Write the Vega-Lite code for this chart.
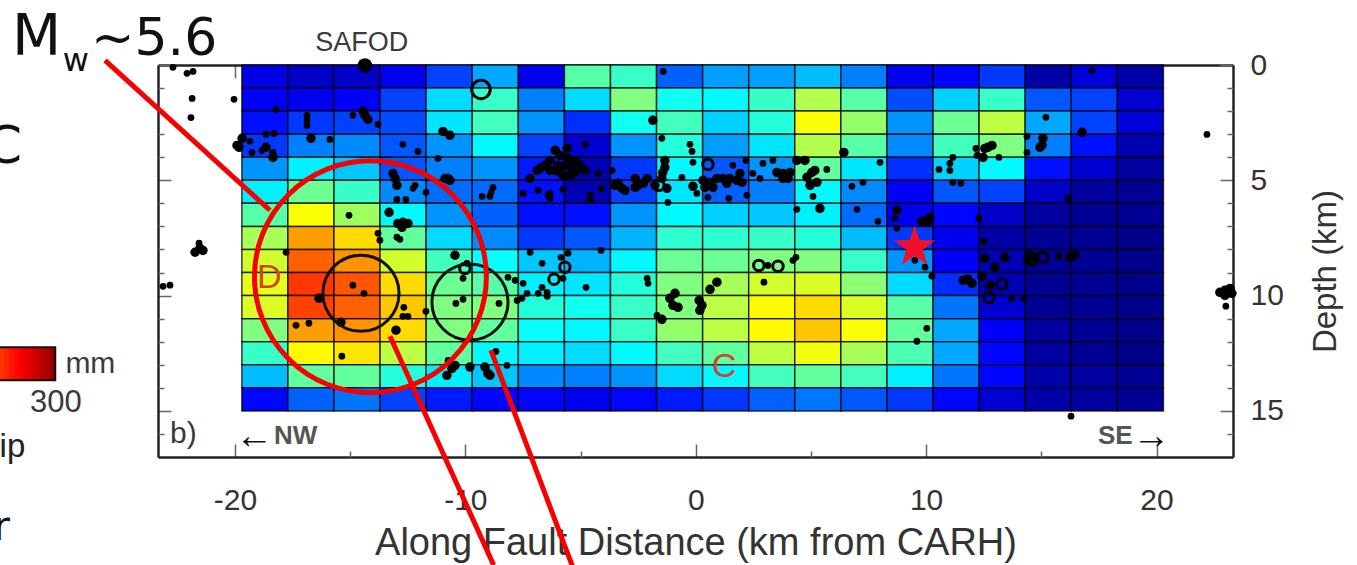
{"$schema":"https://vega.github.io/schema/vega-lite/v6.json","width":1075,"height":392,"autosize":"none","padding":{"left":158,"top":65,"right":124,"bottom":108},"background":"white","view":{"stroke":null},
"datasets":{
"cells":[
{"x":-19.7,"x2":-17.7,"y":0,"y2":1,"s":30},{"x":-17.7,"x2":-15.7,"y":0,"y2":1,"s":21},{"x":-15.7,"x2":-13.7,"y":0,"y2":1,"s":21},{"x":-13.7,"x2":-11.7,"y":0,"y2":1,"s":33},{"x":-11.7,"x2":-9.7,"y":0,"y2":1,"s":57},{"x":-9.7,"x2":-7.7,"y":0,"y2":1,"s":87},{"x":-7.7,"x2":-5.7,"y":0,"y2":1,"s":33},{"x":-5.7,"x2":-3.7,"y":0,"y2":1,"s":138},{"x":-3.7,"x2":-1.7,"y":0,"y2":1,"s":129},{"x":-1.7,"x2":0.3,"y":0,"y2":1,"s":66},{"x":0.3,"x2":2.3,"y":0,"y2":1,"s":84},{"x":2.3,"x2":4.3,"y":0,"y2":1,"s":84},{"x":4.3,"x2":6.3,"y":0,"y2":1,"s":93},{"x":6.3,"x2":8.3,"y":0,"y2":1,"s":75},{"x":8.3,"x2":10.3,"y":0,"y2":1,"s":33},{"x":10.3,"x2":12.3,"y":0,"y2":1,"s":39},{"x":12.3,"x2":14.3,"y":0,"y2":1,"s":54},{"x":14.3,"x2":16.3,"y":0,"y2":1,"s":12},{"x":16.3,"x2":18.3,"y":0,"y2":1,"s":27},{"x":18.3,"x2":20.3,"y":0,"y2":1,"s":12},
{"x":-19.7,"x2":-17.7,"y":1,"y2":2,"s":36},{"x":-17.7,"x2":-15.7,"y":1,"y2":2,"s":33},{"x":-15.7,"x2":-13.7,"y":1,"y2":2,"s":36},{"x":-13.7,"x2":-11.7,"y":1,"y2":2,"s":57},{"x":-11.7,"x2":-9.7,"y":1,"y2":2,"s":102},{"x":-9.7,"x2":-7.7,"y":1,"y2":2,"s":129},{"x":-7.7,"x2":-5.7,"y":1,"y2":2,"s":75},{"x":-5.7,"x2":-3.7,"y":1,"y2":2,"s":102},{"x":-3.7,"x2":-1.7,"y":1,"y2":2,"s":150},{"x":-1.7,"x2":0.3,"y":1,"y2":2,"s":117},{"x":0.3,"x2":2.3,"y":1,"y2":2,"s":111},{"x":2.3,"x2":4.3,"y":1,"y2":2,"s":129},{"x":4.3,"x2":6.3,"y":1,"y2":2,"s":165},{"x":6.3,"x2":8.3,"y":1,"y2":2,"s":138},{"x":8.3,"x2":10.3,"y":1,"y2":2,"s":60},{"x":10.3,"x2":12.3,"y":1,"y2":2,"s":99},{"x":12.3,"x2":14.3,"y":1,"y2":2,"s":129},{"x":14.3,"x2":16.3,"y":1,"y2":2,"s":63},{"x":16.3,"x2":18.3,"y":1,"y2":2,"s":57},{"x":18.3,"x2":20.3,"y":1,"y2":2,"s":24},
{"x":-19.7,"x2":-17.7,"y":2,"y2":3,"s":42},{"x":-17.7,"x2":-15.7,"y":2,"y2":3,"s":54},{"x":-15.7,"x2":-13.7,"y":2,"y2":3,"s":57},{"x":-13.7,"x2":-11.7,"y":2,"y2":3,"s":60},{"x":-11.7,"x2":-9.7,"y":2,"y2":3,"s":105},{"x":-9.7,"x2":-7.7,"y":2,"y2":3,"s":132},{"x":-7.7,"x2":-5.7,"y":2,"y2":3,"s":81},{"x":-5.7,"x2":-3.7,"y":2,"y2":3,"s":51},{"x":-3.7,"x2":-1.7,"y":2,"y2":3,"s":117},{"x":-1.7,"x2":0.3,"y":2,"y2":3,"s":132},{"x":0.3,"x2":2.3,"y":2,"y2":3,"s":99},{"x":2.3,"x2":4.3,"y":2,"y2":3,"s":123},{"x":4.3,"x2":6.3,"y":2,"y2":3,"s":186},{"x":6.3,"x2":8.3,"y":2,"y2":3,"s":156},{"x":8.3,"x2":10.3,"y":2,"y2":3,"s":81},{"x":10.3,"x2":12.3,"y":2,"y2":3,"s":144},{"x":12.3,"x2":14.3,"y":2,"y2":3,"s":168},{"x":14.3,"x2":16.3,"y":2,"y2":3,"s":87},{"x":16.3,"x2":18.3,"y":2,"y2":3,"s":57},{"x":18.3,"x2":20.3,"y":2,"y2":3,"s":27},
{"x":-19.7,"x2":-17.7,"y":3,"y2":4,"s":54},{"x":-17.7,"x2":-15.7,"y":3,"y2":4,"s":75},{"x":-15.7,"x2":-13.7,"y":3,"y2":4,"s":78},{"x":-13.7,"x2":-11.7,"y":3,"y2":4,"s":63},{"x":-11.7,"x2":-9.7,"y":3,"y2":4,"s":81},{"x":-9.7,"x2":-7.7,"y":3,"y2":4,"s":111},{"x":-7.7,"x2":-5.7,"y":3,"y2":4,"s":57},{"x":-5.7,"x2":-3.7,"y":3,"y2":4,"s":24},{"x":-3.7,"x2":-1.7,"y":3,"y2":4,"s":81},{"x":-1.7,"x2":0.3,"y":3,"y2":4,"s":123},{"x":0.3,"x2":2.3,"y":3,"y2":4,"s":84},{"x":2.3,"x2":4.3,"y":3,"y2":4,"s":105},{"x":4.3,"x2":6.3,"y":3,"y2":4,"s":165},{"x":6.3,"x2":8.3,"y":3,"y2":4,"s":138},{"x":8.3,"x2":10.3,"y":3,"y2":4,"s":78},{"x":10.3,"x2":12.3,"y":3,"y2":4,"s":132},{"x":12.3,"x2":14.3,"y":3,"y2":4,"s":150},{"x":14.3,"x2":16.3,"y":3,"y2":4,"s":75},{"x":16.3,"x2":18.3,"y":3,"y2":4,"s":42},{"x":18.3,"x2":20.3,"y":3,"y2":4,"s":15},
{"x":-19.7,"x2":-17.7,"y":4,"y2":5,"s":81},{"x":-17.7,"x2":-15.7,"y":4,"y2":5,"s":108},{"x":-15.7,"x2":-13.7,"y":4,"y2":5,"s":96},{"x":-13.7,"x2":-11.7,"y":4,"y2":5,"s":63},{"x":-11.7,"x2":-9.7,"y":4,"y2":5,"s":75},{"x":-9.7,"x2":-7.7,"y":4,"y2":5,"s":81},{"x":-7.7,"x2":-5.7,"y":4,"y2":5,"s":45},{"x":-5.7,"x2":-3.7,"y":4,"y2":5,"s":15},{"x":-3.7,"x2":-1.7,"y":4,"y2":5,"s":54},{"x":-1.7,"x2":0.3,"y":4,"y2":5,"s":111},{"x":0.3,"x2":2.3,"y":4,"y2":5,"s":63},{"x":2.3,"x2":4.3,"y":4,"y2":5,"s":81},{"x":4.3,"x2":6.3,"y":4,"y2":5,"s":141},{"x":6.3,"x2":8.3,"y":4,"y2":5,"s":105},{"x":8.3,"x2":10.3,"y":4,"y2":5,"s":51},{"x":10.3,"x2":12.3,"y":4,"y2":5,"s":99},{"x":12.3,"x2":14.3,"y":4,"y2":5,"s":111},{"x":14.3,"x2":16.3,"y":4,"y2":5,"s":42},{"x":16.3,"x2":18.3,"y":4,"y2":5,"s":24},{"x":18.3,"x2":20.3,"y":4,"y2":5,"s":9},
{"x":-19.7,"x2":-17.7,"y":5,"y2":6,"s":108},{"x":-17.7,"x2":-15.7,"y":5,"y2":6,"s":144},{"x":-15.7,"x2":-13.7,"y":5,"y2":6,"s":129},{"x":-13.7,"x2":-11.7,"y":5,"y2":6,"s":78},{"x":-11.7,"x2":-9.7,"y":5,"y2":6,"s":69},{"x":-9.7,"x2":-7.7,"y":5,"y2":6,"s":69},{"x":-7.7,"x2":-5.7,"y":5,"y2":6,"s":42},{"x":-5.7,"x2":-3.7,"y":5,"y2":6,"s":15},{"x":-3.7,"x2":-1.7,"y":5,"y2":6,"s":57},{"x":-1.7,"x2":0.3,"y":5,"y2":6,"s":105},{"x":0.3,"x2":2.3,"y":5,"y2":6,"s":66},{"x":2.3,"x2":4.3,"y":5,"y2":6,"s":75},{"x":4.3,"x2":6.3,"y":5,"y2":6,"s":111},{"x":6.3,"x2":8.3,"y":5,"y2":6,"s":78},{"x":8.3,"x2":10.3,"y":5,"y2":6,"s":36},{"x":10.3,"x2":12.3,"y":5,"y2":6,"s":63},{"x":12.3,"x2":14.3,"y":5,"y2":6,"s":57},{"x":14.3,"x2":16.3,"y":5,"y2":6,"s":21},{"x":16.3,"x2":18.3,"y":5,"y2":6,"s":9},{"x":18.3,"x2":20.3,"y":5,"y2":6,"s":6},
{"x":-19.7,"x2":-17.7,"y":6,"y2":7,"s":138},{"x":-17.7,"x2":-15.7,"y":6,"y2":7,"s":186},{"x":-15.7,"x2":-13.7,"y":6,"y2":7,"s":159},{"x":-13.7,"x2":-11.7,"y":6,"y2":7,"s":111},{"x":-11.7,"x2":-9.7,"y":6,"y2":7,"s":81},{"x":-9.7,"x2":-7.7,"y":6,"y2":7,"s":66},{"x":-7.7,"x2":-5.7,"y":6,"y2":7,"s":42},{"x":-5.7,"x2":-3.7,"y":6,"y2":7,"s":42},{"x":-3.7,"x2":-1.7,"y":6,"y2":7,"s":81},{"x":-1.7,"x2":0.3,"y":6,"y2":7,"s":111},{"x":0.3,"x2":2.3,"y":6,"y2":7,"s":99},{"x":2.3,"x2":4.3,"y":6,"y2":7,"s":96},{"x":4.3,"x2":6.3,"y":6,"y2":7,"s":108},{"x":6.3,"x2":8.3,"y":6,"y2":7,"s":69},{"x":8.3,"x2":10.3,"y":6,"y2":7,"s":33},{"x":10.3,"x2":12.3,"y":6,"y2":7,"s":39},{"x":12.3,"x2":14.3,"y":6,"y2":7,"s":21},{"x":14.3,"x2":16.3,"y":6,"y2":7,"s":9},{"x":16.3,"x2":18.3,"y":6,"y2":7,"s":6},{"x":18.3,"x2":20.3,"y":6,"y2":7,"s":6},
{"x":-19.7,"x2":-17.7,"y":7,"y2":8,"s":162},{"x":-17.7,"x2":-15.7,"y":7,"y2":8,"s":216},{"x":-15.7,"x2":-13.7,"y":7,"y2":8,"s":198},{"x":-13.7,"x2":-11.7,"y":7,"y2":8,"s":141},{"x":-11.7,"x2":-9.7,"y":7,"y2":8,"s":102},{"x":-9.7,"x2":-7.7,"y":7,"y2":8,"s":78},{"x":-7.7,"x2":-5.7,"y":7,"y2":8,"s":54},{"x":-5.7,"x2":-3.7,"y":7,"y2":8,"s":63},{"x":-3.7,"x2":-1.7,"y":7,"y2":8,"s":90},{"x":-1.7,"x2":0.3,"y":7,"y2":8,"s":126},{"x":0.3,"x2":2.3,"y":7,"y2":8,"s":126},{"x":2.3,"x2":4.3,"y":7,"y2":8,"s":129},{"x":4.3,"x2":6.3,"y":7,"y2":8,"s":123},{"x":6.3,"x2":8.3,"y":7,"y2":8,"s":93},{"x":8.3,"x2":10.3,"y":7,"y2":8,"s":54},{"x":10.3,"x2":12.3,"y":7,"y2":8,"s":33},{"x":12.3,"x2":14.3,"y":7,"y2":8,"s":12},{"x":14.3,"x2":16.3,"y":7,"y2":8,"s":6},{"x":16.3,"x2":18.3,"y":7,"y2":8,"s":6},{"x":18.3,"x2":20.3,"y":7,"y2":8,"s":3},
{"x":-19.7,"x2":-17.7,"y":8,"y2":9,"s":174},{"x":-17.7,"x2":-15.7,"y":8,"y2":9,"s":234},{"x":-15.7,"x2":-13.7,"y":8,"y2":9,"s":219},{"x":-13.7,"x2":-11.7,"y":8,"y2":9,"s":174},{"x":-11.7,"x2":-9.7,"y":8,"y2":9,"s":132},{"x":-9.7,"x2":-7.7,"y":8,"y2":9,"s":114},{"x":-7.7,"x2":-5.7,"y":8,"y2":9,"s":96},{"x":-5.7,"x2":-3.7,"y":8,"y2":9,"s":90},{"x":-3.7,"x2":-1.7,"y":8,"y2":9,"s":111},{"x":-1.7,"x2":0.3,"y":8,"y2":9,"s":144},{"x":0.3,"x2":2.3,"y":8,"y2":9,"s":144},{"x":2.3,"x2":4.3,"y":8,"y2":9,"s":150},{"x":4.3,"x2":6.3,"y":8,"y2":9,"s":150},{"x":6.3,"x2":8.3,"y":8,"y2":9,"s":129},{"x":8.3,"x2":10.3,"y":8,"y2":9,"s":81},{"x":10.3,"x2":12.3,"y":8,"y2":9,"s":36},{"x":12.3,"x2":14.3,"y":8,"y2":9,"s":15},{"x":14.3,"x2":16.3,"y":8,"y2":9,"s":6},{"x":16.3,"x2":18.3,"y":8,"y2":9,"s":6},{"x":18.3,"x2":20.3,"y":8,"y2":9,"s":3},
{"x":-19.7,"x2":-17.7,"y":9,"y2":10,"s":180},{"x":-17.7,"x2":-15.7,"y":9,"y2":10,"s":246},{"x":-15.7,"x2":-13.7,"y":9,"y2":10,"s":237},{"x":-13.7,"x2":-11.7,"y":9,"y2":10,"s":198},{"x":-11.7,"x2":-9.7,"y":9,"y2":10,"s":144},{"x":-9.7,"x2":-7.7,"y":9,"y2":10,"s":138},{"x":-7.7,"x2":-5.7,"y":9,"y2":10,"s":108},{"x":-5.7,"x2":-3.7,"y":9,"y2":10,"s":105},{"x":-3.7,"x2":-1.7,"y":9,"y2":10,"s":123},{"x":-1.7,"x2":0.3,"y":9,"y2":10,"s":150},{"x":0.3,"x2":2.3,"y":9,"y2":10,"s":162},{"x":2.3,"x2":4.3,"y":9,"y2":10,"s":174},{"x":4.3,"x2":6.3,"y":9,"y2":10,"s":177},{"x":6.3,"x2":8.3,"y":9,"y2":10,"s":153},{"x":8.3,"x2":10.3,"y":9,"y2":10,"s":102},{"x":10.3,"x2":12.3,"y":9,"y2":10,"s":51},{"x":12.3,"x2":14.3,"y":9,"y2":10,"s":15},{"x":14.3,"x2":16.3,"y":9,"y2":10,"s":6},{"x":16.3,"x2":18.3,"y":9,"y2":10,"s":6},{"x":18.3,"x2":20.3,"y":9,"y2":10,"s":3},
{"x":-19.7,"x2":-17.7,"y":10,"y2":11,"s":177},{"x":-17.7,"x2":-15.7,"y":10,"y2":11,"s":243},{"x":-15.7,"x2":-13.7,"y":10,"y2":11,"s":234},{"x":-13.7,"x2":-11.7,"y":10,"y2":11,"s":204},{"x":-11.7,"x2":-9.7,"y":10,"y2":11,"s":150},{"x":-9.7,"x2":-7.7,"y":10,"y2":11,"s":150},{"x":-7.7,"x2":-5.7,"y":10,"y2":11,"s":123},{"x":-5.7,"x2":-3.7,"y":10,"y2":11,"s":117},{"x":-3.7,"x2":-1.7,"y":10,"y2":11,"s":129},{"x":-1.7,"x2":0.3,"y":10,"y2":11,"s":150},{"x":0.3,"x2":2.3,"y":10,"y2":11,"s":168},{"x":2.3,"x2":4.3,"y":10,"y2":11,"s":189},{"x":4.3,"x2":6.3,"y":10,"y2":11,"s":198},{"x":6.3,"x2":8.3,"y":10,"y2":11,"s":177},{"x":8.3,"x2":10.3,"y":10,"y2":11,"s":138},{"x":10.3,"x2":12.3,"y":10,"y2":11,"s":72},{"x":12.3,"x2":14.3,"y":10,"y2":11,"s":24},{"x":14.3,"x2":16.3,"y":10,"y2":11,"s":6},{"x":16.3,"x2":18.3,"y":10,"y2":11,"s":6},{"x":18.3,"x2":20.3,"y":10,"y2":11,"s":3},
{"x":-19.7,"x2":-17.7,"y":11,"y2":12,"s":150},{"x":-17.7,"x2":-15.7,"y":11,"y2":12,"s":216},{"x":-15.7,"x2":-13.7,"y":11,"y2":12,"s":219},{"x":-13.7,"x2":-11.7,"y":11,"y2":12,"s":198},{"x":-11.7,"x2":-9.7,"y":11,"y2":12,"s":150},{"x":-9.7,"x2":-7.7,"y":11,"y2":12,"s":141},{"x":-7.7,"x2":-5.7,"y":11,"y2":12,"s":114},{"x":-5.7,"x2":-3.7,"y":11,"y2":12,"s":111},{"x":-3.7,"x2":-1.7,"y":11,"y2":12,"s":129},{"x":-1.7,"x2":0.3,"y":11,"y2":12,"s":156},{"x":0.3,"x2":2.3,"y":11,"y2":12,"s":168},{"x":2.3,"x2":4.3,"y":11,"y2":12,"s":189},{"x":4.3,"x2":6.3,"y":11,"y2":12,"s":204},{"x":6.3,"x2":8.3,"y":11,"y2":12,"s":186},{"x":8.3,"x2":10.3,"y":11,"y2":12,"s":141},{"x":10.3,"x2":12.3,"y":11,"y2":12,"s":87},{"x":12.3,"x2":14.3,"y":11,"y2":12,"s":36},{"x":14.3,"x2":16.3,"y":11,"y2":12,"s":9},{"x":16.3,"x2":18.3,"y":11,"y2":12,"s":6},{"x":18.3,"x2":20.3,"y":11,"y2":12,"s":3},
{"x":-19.7,"x2":-17.7,"y":12,"y2":13,"s":129},{"x":-17.7,"x2":-15.7,"y":12,"y2":13,"s":189},{"x":-15.7,"x2":-13.7,"y":12,"y2":13,"s":195},{"x":-13.7,"x2":-11.7,"y":12,"y2":13,"s":168},{"x":-11.7,"x2":-9.7,"y":12,"y2":13,"s":141},{"x":-9.7,"x2":-7.7,"y":12,"y2":13,"s":111},{"x":-7.7,"x2":-5.7,"y":12,"y2":13,"s":108},{"x":-5.7,"x2":-3.7,"y":12,"y2":13,"s":102},{"x":-3.7,"x2":-1.7,"y":12,"y2":13,"s":111},{"x":-1.7,"x2":0.3,"y":12,"y2":13,"s":132},{"x":0.3,"x2":2.3,"y":12,"y2":13,"s":141},{"x":2.3,"x2":4.3,"y":12,"y2":13,"s":168},{"x":4.3,"x2":6.3,"y":12,"y2":13,"s":183},{"x":6.3,"x2":8.3,"y":12,"y2":13,"s":162},{"x":8.3,"x2":10.3,"y":12,"y2":13,"s":135},{"x":10.3,"x2":12.3,"y":12,"y2":13,"s":87},{"x":12.3,"x2":14.3,"y":12,"y2":13,"s":39},{"x":14.3,"x2":16.3,"y":12,"y2":13,"s":9},{"x":16.3,"x2":18.3,"y":12,"y2":13,"s":6},{"x":18.3,"x2":20.3,"y":12,"y2":13,"s":3},
{"x":-19.7,"x2":-17.7,"y":13,"y2":14,"s":93},{"x":-17.7,"x2":-15.7,"y":13,"y2":14,"s":141},{"x":-15.7,"x2":-13.7,"y":13,"y2":14,"s":141},{"x":-13.7,"x2":-11.7,"y":13,"y2":14,"s":123},{"x":-11.7,"x2":-9.7,"y":13,"y2":14,"s":108},{"x":-9.7,"x2":-7.7,"y":13,"y2":14,"s":96},{"x":-7.7,"x2":-5.7,"y":13,"y2":14,"s":78},{"x":-5.7,"x2":-3.7,"y":13,"y2":14,"s":75},{"x":-3.7,"x2":-1.7,"y":13,"y2":14,"s":81},{"x":-1.7,"x2":0.3,"y":13,"y2":14,"s":102},{"x":0.3,"x2":2.3,"y":13,"y2":14,"s":111},{"x":2.3,"x2":4.3,"y":13,"y2":14,"s":132},{"x":4.3,"x2":6.3,"y":13,"y2":14,"s":141},{"x":6.3,"x2":8.3,"y":13,"y2":14,"s":132},{"x":8.3,"x2":10.3,"y":13,"y2":14,"s":108},{"x":10.3,"x2":12.3,"y":13,"y2":14,"s":72},{"x":12.3,"x2":14.3,"y":13,"y2":14,"s":39},{"x":14.3,"x2":16.3,"y":13,"y2":14,"s":12},{"x":16.3,"x2":18.3,"y":13,"y2":14,"s":9},{"x":18.3,"x2":20.3,"y":13,"y2":14,"s":6},
{"x":-19.7,"x2":-17.7,"y":14,"y2":15,"s":39},{"x":-17.7,"x2":-15.7,"y":14,"y2":15,"s":66},{"x":-15.7,"x2":-13.7,"y":14,"y2":15,"s":72},{"x":-13.7,"x2":-11.7,"y":14,"y2":15,"s":57},{"x":-11.7,"x2":-9.7,"y":14,"y2":15,"s":45},{"x":-9.7,"x2":-7.7,"y":14,"y2":15,"s":39},{"x":-7.7,"x2":-5.7,"y":14,"y2":15,"s":39},{"x":-5.7,"x2":-3.7,"y":14,"y2":15,"s":33},{"x":-3.7,"x2":-1.7,"y":14,"y2":15,"s":39},{"x":-1.7,"x2":0.3,"y":14,"y2":15,"s":45},{"x":0.3,"x2":2.3,"y":14,"y2":15,"s":54},{"x":2.3,"x2":4.3,"y":14,"y2":15,"s":66},{"x":4.3,"x2":6.3,"y":14,"y2":15,"s":72},{"x":6.3,"x2":8.3,"y":14,"y2":15,"s":63},{"x":8.3,"x2":10.3,"y":14,"y2":15,"s":54},{"x":10.3,"x2":12.3,"y":14,"y2":15,"s":39},{"x":12.3,"x2":14.3,"y":14,"y2":15,"s":24},{"x":14.3,"x2":16.3,"y":14,"y2":15,"s":12},{"x":16.3,"x2":18.3,"y":14,"y2":15,"s":9},{"x":18.3,"x2":20.3,"y":14,"y2":15,"s":6}],
"colorbar":[{"x":-30.2,"x2":-29.95,"y":12.24,"y2":13.67,"s":248},{"x":-30,"x2":-29.75,"y":12.24,"y2":13.67,"s":252},{"x":-29.8,"x2":-29.55,"y":12.24,"y2":13.67,"s":256},{"x":-29.6,"x2":-29.35,"y":12.24,"y2":13.67,"s":260},{"x":-29.4,"x2":-29.15,"y":12.24,"y2":13.67,"s":264},{"x":-29.2,"x2":-28.95,"y":12.24,"y2":13.67,"s":268},{"x":-29,"x2":-28.75,"y":12.24,"y2":13.67,"s":272},{"x":-28.8,"x2":-28.55,"y":12.24,"y2":13.67,"s":276},{"x":-28.6,"x2":-28.35,"y":12.24,"y2":13.67,"s":280},{"x":-28.4,"x2":-28.15,"y":12.24,"y2":13.67,"s":284},{"x":-28.2,"x2":-27.95,"y":12.24,"y2":13.67,"s":288},{"x":-28,"x2":-27.8,"y":12.24,"y2":13.67,"s":296}],
"dots":[{"x":-22.69,"y":0.1},{"x":-22.08,"y":0.36},{"x":-21.82,"y":0.28},{"x":-21.86,"y":1.45},{"x":-21.91,"y":2.28},{"x":-20.04,"y":1.49},{"x":-19.35,"y":3.31},{"x":-19.26,"y":3.79},{"x":-18.65,"y":3.01},{"x":-18.31,"y":2.97},{"x":-18.83,"y":3.7},{"x":-18.35,"y":3.79},{"x":-18.22,"y":1.92},{"x":-16.87,"y":2.18},{"x":-16.87,"y":2.4},{"x":-16.87,"y":2.62},{"x":-15.88,"y":3.23},{"x":-14.88,"y":2.18},{"x":-13.79,"y":2.57},{"x":-12.71,"y":3.44},{"x":-12.06,"y":3.75},{"x":-11.19,"y":4.05},{"x":-12.18,"y":5.22},{"x":-12.27,"y":5.35},{"x":-11.71,"y":5.52},{"x":-12.97,"y":5.83},{"x":-12.58,"y":5.83},{"x":-8.8,"y":5.31},{"x":-8.88,"y":5.52},{"x":-9.27,"y":5.7},{"x":-8.93,"y":5.7},{"x":-15.05,"y":6.52},{"x":-13.79,"y":7.3},{"x":-13.71,"y":7.6},{"x":-12.97,"y":7.47},{"x":-12.84,"y":7.56},{"x":-21.56,"y":7.73},{"x":-17.78,"y":8.12},{"x":-7.19,"y":8.12},{"x":-7.49,"y":5.57},{"x":-6.84,"y":5.44},{"x":-6.41,"y":5.65},{"x":-4.8,"y":3.44},{"x":-4.24,"y":4.7},{"x":-3.63,"y":4.57},{"x":-5.76,"y":5.39},{"x":-6.32,"y":5.57},{"x":-6.32,"y":5.78},{"x":-4.11,"y":5.35},{"x":-4.58,"y":5.65},{"x":-4.58,"y":5.87},{"x":-1.41,"y":0.28},{"x":-1.47,"y":3.18},{"x":-1.21,"y":5.96},{"x":-0.6,"y":4.87},{"x":-0.25,"y":3.44},{"x":-0.16,"y":3.75},{"x":-0.12,"y":4.22},{"x":0.05,"y":5.57},{"x":0.53,"y":5.74},{"x":1.44,"y":5.78},{"x":2.22,"y":5.65},{"x":1.61,"y":4.35},{"x":2.18,"y":4.14},{"x":2.48,"y":4.7},{"x":2.79,"y":4.92},{"x":2.92,"y":4.27},{"x":3.35,"y":4.14},{"x":4.39,"y":6.26},{"x":5.09,"y":5.7},{"x":5.69,"y":4.53},{"x":6.78,"y":5.26},{"x":7.26,"y":5.09},{"x":8,"y":4.22},{"x":7,"y":6.26},{"x":7.91,"y":6.78},{"x":8.64,"y":6.65},{"x":8.73,"y":7.08},{"x":9.86,"y":6.78},{"x":-5.54,"y":8.17},{"x":-5.85,"y":8.34},{"x":-4.11,"y":8.04},{"x":-14.88,"y":9.55},{"x":-14.4,"y":9.9},{"x":-15.4,"y":11.16},{"x":-16.79,"y":11.2},{"x":-17.35,"y":11.29},{"x":-12.67,"y":10.51},{"x":-12.49,"y":10.9},{"x":-12.71,"y":10.9},{"x":-11.71,"y":10.68},{"x":-15.36,"y":12.63},{"x":-10.41,"y":10.34},{"x":-10.1,"y":10.16},{"x":-8.54,"y":10.34},{"x":-10.1,"y":9.25},{"x":-9.93,"y":8.6},{"x":-8.15,"y":9.21},{"x":-7.84,"y":9.34},{"x":-7.49,"y":9.47},{"x":-7.75,"y":10.21},{"x":-7.54,"y":10.12},{"x":-6.84,"y":9.9},{"x":-6.45,"y":9.86},{"x":-7.32,"y":9.9},{"x":-6.67,"y":8.6},{"x":-8.19,"y":13.03},{"x":-8.67,"y":12.42},{"x":-10.75,"y":12.81},{"x":-6.67,"y":9.64},{"x":-6.45,"y":10.03},{"x":-4.76,"y":9.64},{"x":-5.76,"y":9.25},{"x":-2.11,"y":9.25},{"x":-2.07,"y":9.47},{"x":-1.68,"y":10.86},{"x":2.96,"y":9.42},{"x":3.13,"y":8.69},{"x":4.22,"y":8.47},{"x":4.35,"y":8.34},{"x":10.03,"y":11.42},{"x":9.6,"y":11.98},{"x":9.51,"y":8.47},{"x":9.95,"y":8.77},{"x":10.25,"y":9.16},{"x":15.2,"y":2.27},{"x":22.19,"y":3.01},{"x":17.2,"y":0.23},{"x":14.38,"y":3.1},{"x":14.38,"y":3.79},{"x":12.16,"y":3.62},{"x":12.21,"y":3.92},{"x":13.16,"y":4.01},{"x":11.16,"y":4.01},{"x":11.03,"y":4.27},{"x":10.56,"y":4.53},{"x":11.03,"y":4.57},{"x":11.16,"y":5.09},{"x":11.51,"y":5.13},{"x":16.16,"y":5.78},{"x":12.29,"y":6.65},{"x":12.51,"y":7.65},{"x":15.76,"y":8.3},{"x":13.72,"y":10.12},{"x":14.25,"y":10.12},{"x":16.29,"y":15.23},{"x":23.01,"y":10.46},{"x":-23.12,"y":9.6},{"x":-22.82,"y":9.55}],
"bigdots":[{"x":-19.69,"y":3.18},{"x":-19.82,"y":3.57},{"x":-19.91,"y":3.49},{"x":-18.65,"y":3.57},{"x":-18.35,"y":4.01},{"x":-16.7,"y":3.18},{"x":-14.44,"y":2.01},{"x":-14.36,"y":2.18},{"x":-14.23,"y":2.36},{"x":-10.97,"y":2.88},{"x":-10.67,"y":3.05},{"x":-13.14,"y":4.7},{"x":-13.05,"y":4.92},{"x":-12.97,"y":5.22},{"x":-10.88,"y":4.92},{"x":-10.75,"y":4.92},{"x":-10.67,"y":5},{"x":-13.31,"y":6.39},{"x":-12.71,"y":6.82},{"x":-12.93,"y":6.87},{"x":-12.49,"y":6.87},{"x":-12.75,"y":7.04},{"x":-21.73,"y":8.12},{"x":-21.39,"y":8.04},{"x":-21.52,"y":7.95},{"x":-10.45,"y":8.25},{"x":-7.19,"y":4.92},{"x":-6.88,"y":4.57},{"x":-6.54,"y":4.35},{"x":-6.32,"y":4.14},{"x":-6.1,"y":3.7},{"x":-6.19,"y":4.57},{"x":-5.89,"y":3.92},{"x":-5.67,"y":4.35},{"x":-5.45,"y":4.79},{"x":-5.23,"y":4.14},{"x":-5.02,"y":4.35},{"x":-4.8,"y":4.57},{"x":-5.58,"y":3.62},{"x":-5.54,"y":4.05},{"x":-6.75,"y":4.48},{"x":-5.23,"y":4.66},{"x":-5.89,"y":4.66},{"x":-6.32,"y":4.57},{"x":-5.97,"y":4.35},{"x":-5.36,"y":4.44},{"x":-5.76,"y":4.79},{"x":-3.37,"y":5.13},{"x":-3.2,"y":5.35},{"x":-3.07,"y":5.44},{"x":-3.5,"y":5.22},{"x":-2.63,"y":4.92},{"x":-2.5,"y":5.22},{"x":-2.63,"y":5.31},{"x":-2.11,"y":4.92},{"x":-2.28,"y":5.13},{"x":-1.86,"y":2.4},{"x":-1.34,"y":4.14},{"x":-1.34,"y":4.44},{"x":-1.43,"y":4.66},{"x":-1.25,"y":5.35},{"x":-1.47,"y":4.92},{"x":-1.77,"y":5.22},{"x":-0.12,"y":5.26},{"x":0.31,"y":5},{"x":0.62,"y":5.09},{"x":0.92,"y":4.92},{"x":1.18,"y":4.92},{"x":1.48,"y":4.92},{"x":1.79,"y":5},{"x":1.92,"y":4.7},{"x":2.01,"y":5.09},{"x":0.4,"y":5.31},{"x":0.75,"y":5.31},{"x":1.35,"y":5.13},{"x":3.52,"y":4.66},{"x":3.78,"y":4.7},{"x":4,"y":4.92},{"x":4.09,"y":4.66},{"x":3.78,"y":4.92},{"x":4.39,"y":4.14},{"x":4.74,"y":4.14},{"x":4.83,"y":4.87},{"x":5.04,"y":4.66},{"x":5.17,"y":4.57},{"x":4.96,"y":5.22},{"x":5.26,"y":5.09},{"x":5.39,"y":6.22},{"x":6.43,"y":3.79},{"x":8.73,"y":6.3},{"x":10.08,"y":6.82},{"x":-16.35,"y":10.12},{"x":-15.4,"y":11.16},{"x":-13.01,"y":11.5},{"x":-10.8,"y":13.46},{"x":-10.58,"y":13.16},{"x":-10.45,"y":13.03},{"x":-9.8,"y":13.1},{"x":-9.15,"y":13.1},{"x":-9.02,"y":13.37},{"x":-8.93,"y":13.46},{"x":-0.9,"y":9.9},{"x":-1.12,"y":10.12},{"x":-0.99,"y":10.42},{"x":-0.77,"y":10.51},{"x":-1.47,"y":11.03},{"x":0.15,"y":10.21},{"x":0.27,"y":10.42},{"x":0.18,"y":10.64},{"x":0.62,"y":9.73},{"x":0.92,"y":9.42},{"x":16.77,"y":2.92},{"x":15.07,"y":3.18},{"x":15.03,"y":3.49},{"x":14.94,"y":3.57},{"x":12.68,"y":3.57},{"x":12.86,"y":3.49},{"x":12.55,"y":3.62},{"x":12.47,"y":4.01},{"x":10.03,"y":6.74},{"x":9.82,"y":6.78},{"x":10.16,"y":6.61},{"x":12.55,"y":8.38},{"x":13.42,"y":8.34},{"x":12.99,"y":8.77},{"x":14.42,"y":8.47},{"x":14.51,"y":8.25},{"x":14.72,"y":8.34},{"x":14.64,"y":8.56},{"x":16.24,"y":8.34},{"x":16.46,"y":8.25},{"x":11.81,"y":9.29},{"x":11.6,"y":9.34},{"x":11.99,"y":9.47},{"x":12.42,"y":9.16},{"x":12.77,"y":9.55},{"x":22.75,"y":9.86},{"x":22.97,"y":9.77},{"x":23.1,"y":9.86},{"x":23.27,"y":9.9},{"x":22.97,"y":9.99},{"x":23.19,"y":9.69}],
"rings":[{"x":-1.6,"y":5.22},{"x":0.53,"y":4.31},{"x":-10.02,"y":8.82},{"x":-5.68,"y":8.77},{"x":-6.15,"y":9.29},{"x":2.74,"y":8.69},{"x":3.57,"y":8.73},{"x":13.29,"y":9.51},{"x":12.73,"y":10.08},{"x":15.07,"y":8.34}]
},
"data":{"name":"cells"},
"encoding":{"x":{"field":"x","type":"quantitative","scale":{"domain":[-23.34,23.32]},"axis":null},"y":{"field":"y","type":"quantitative","scale":{"domain":[0,17],"reverse":true},"axis":null}},
"layer":[
{"mark":{"type":"rect","stroke":"#000","strokeWidth":1.5,"strokeOpacity":0.75},
 "encoding":{"x":{"field":"x","type":"quantitative","scale":{"domain":[-23.34,23.32]},"axis":{"values":[-20,-10,0,10,20],"orient":"bottom","tickSize":-13,"tickColor":"#666","tickWidth":1.5,"domain":true,"domainColor":"#222","domainWidth":2.5,"grid":false,"labelFont":"Liberation Sans","labelFontSize":30,"labelColor":"#333","labelPadding":41,"labelExpr":"''+datum.value","labelOverlap":false,"title":"Along Fault Distance (km from CARH)","titleFont":"Liberation Sans","titleFontSize":38,"titleFontWeight":"normal","titleColor":"#333","titlePadding":9}},
 "x2":{"field":"x2"},
 "y":{"field":"y","type":"quantitative","scale":{"domain":[0,17],"reverse":true},"axis":{"values":[0,5,10,15],"orient":"right","tickSize":-13,"tickColor":"#666","tickWidth":1.5,"domain":true,"domainColor":"#222","domainWidth":2.5,"grid":false,"labelFont":"Liberation Sans","labelFontSize":30,"labelColor":"#333","labelPadding":30,"labelExpr":"''+datum.value","labelOverlap":false,"title":"Depth (km)","titleFont":"Liberation Sans","titleFontSize":33,"titleFontWeight":"normal","titleColor":"#333","titleAngle":270,"titleBaseline":"bottom","titleY":206,"titlePadding":59}},
 "y2":{"field":"y2"},
 "color":{"field":"s","type":"quantitative","legend":null,"scale":{"interpolate":"rgb","domain":[0,37.5,112.5,187.5,262.5,300],"range":["#000080","#0000ff","#00ffff","#ffff00","#ff0000","#800000"]}}}},
{"data":{"name":"colorbar"},"mark":{"type":"rect"},
 "encoding":{"x2":{"field":"x2"},"y2":{"field":"y2"},"color":{"field":"s","type":"quantitative","legend":null,"scale":{"interpolate":"rgb","domain":[0,37.5,112.5,187.5,262.5,300],"range":["#000080","#0000ff","#00ffff","#ffff00","#ff0000","#800000"]}}}},
{"data":{"values":[{"x":-31,"x2":-27.8,"y":12.24,"y2":13.67}]},"mark":{"type":"rect","fill":null,"stroke":"#111","strokeWidth":2},"encoding":{"x2":{"field":"x2"},"y2":{"field":"y2"}}},
{"data":{"name":"dots"},"mark":{"type":"point","shape":"circle","filled":true,"fill":"#000","stroke":null,"opacity":1,"size":46},
 "encoding":{"x":{"field":"x","type":"quantitative","scale":{"domain":[-23.34,23.32]},"axis":{"values":[-20,-10,0,10,20],"orient":"top","tickSize":-13,"tickColor":"#666","tickWidth":1.5,"domain":true,"domainColor":"#222","domainWidth":2.5,"grid":false,"labels":false,"title":null}},
 "y":{"field":"y","type":"quantitative","scale":{"domain":[0,17],"reverse":true},"axis":{"values":[0,5,10,15],"orient":"left","tickSize":-13,"tickColor":"#666","tickWidth":1.5,"domain":true,"domainColor":"#222","domainWidth":2.5,"grid":false,"labels":false,"title":null}}}},
{"data":{"name":"bigdots"},"mark":{"type":"point","shape":"circle","filled":true,"fill":"#000","stroke":null,"opacity":1,"size":90},
 "encoding":{"x":{"field":"x","type":"quantitative","scale":{"domain":[-23.34,23.32]},"axis":{"values":[-15,-5,5,15],"orient":"bottom","tickSize":-6,"tickColor":"#666","tickWidth":1.5,"domain":false,"grid":false,"labels":false,"title":null}},
 "y":{"field":"y","type":"quantitative","scale":{"domain":[0,17],"reverse":true},"axis":{"values":[1,2,3,4,6,7,8,9,11,12,13,14,16],"orient":"left","tickSize":-6,"tickColor":"#666","tickWidth":1.5,"domain":false,"grid":false,"labels":false,"title":null}}}},
{"data":{"name":"rings"},"mark":{"type":"point","shape":"circle","filled":false,"stroke":"#000","strokeWidth":3,"opacity":1,"size":110},
 "encoding":{"y":{"field":"y","type":"quantitative","scale":{"domain":[0,17],"reverse":true},"axis":{"values":[1,2,3,4,6,7,8,9,11,12,13,14,16],"orient":"right","tickSize":-6,"tickColor":"#666","tickWidth":1.5,"domain":false,"grid":false,"labels":false,"title":null}}}},
{"data":{"values":[{"x":-9.32,"y":1.06}]},"mark":{"type":"point","shape":"circle","filled":false,"stroke":"#000","strokeWidth":3,"opacity":1,"size":340}},
{"data":{"values":[{"x":-14.36,"y":0.02}]},"mark":{"type":"point","shape":"circle","filled":true,"fill":"#000","stroke":null,"opacity":1,"size":210}},
{"data":{"values":[{"x":-14.53,"y":9.9},{"x":-9.8,"y":10.28}]},"mark":{"type":"point","shape":"circle","filled":false,"stroke":"#111","strokeWidth":3,"opacity":1,"size":5800}},
{"data":{"values":[{"x":-14.12,"y":9.18}]},"mark":{"type":"point","shape":"circle","filled":false,"stroke":"#f80000","strokeWidth":5,"opacity":1,"size":53800}},
{"data":{"values":[{"x":9.5,"y":7.9}]},"mark":{"type":"point","shape":"M0,-1L0.235,-0.324L0.951,-0.309L0.38,0.124L0.588,0.809L0,0.4L-0.588,0.809L-0.38,0.124L-0.951,-0.309L-0.235,-0.324Z","filled":true,"fill":"#f0102a","stroke":null,"opacity":1,"size":1900}},
{"data":{"values":[{"id":"a","x":-25.64,"y":-0.2},{"id":"a","x":-18.48,"y":6.3},{"id":"b","x":-13.27,"y":11.76},{"id":"b","x":-8.77,"y":21.69},{"id":"c","x":-8.89,"y":12.37},{"id":"c","x":-5.29,"y":21.9}]},"mark":{"type":"line","stroke":"#f80000","strokeWidth":5},"encoding":{"detail":{"field":"id"}}},
{"data":{"values":[{"x":-29.68,"y":-0.42,"t":"M"}]},"mark":{"type":"text","align":"left","baseline":"alphabetic","font":"DejaVu Sans","fontSize":57,"fill":"#111"},"encoding":{"text":{"field":"t"}}},
{"data":{"values":[{"x":-26.25,"y":-0.42,"t":"~5.6"}]},"mark":{"type":"text","align":"left","baseline":"alphabetic","font":"DejaVu Sans","fontSize":52,"fill":"#111"},"encoding":{"text":{"field":"t"}}},
{"data":{"values":[{"x":-27.47,"y":0.28,"t":"w"}]},"mark":{"type":"text","align":"left","baseline":"alphabetic","font":"DejaVu Sans","fontSize":32,"fill":"#111"},"encoding":{"text":{"field":"t"}}},
{"data":{"values":[{"x":-29.24,"y":4.27,"t":"C"}]},"mark":{"type":"text","align":"right","baseline":"alphabetic","font":"DejaVu Sans","fontSize":52,"fill":"#111"},"encoding":{"text":{"field":"t"}}},
{"data":{"values":[{"x":-29.77,"y":20.6,"t":"r"}]},"mark":{"type":"text","align":"right","baseline":"alphabetic","font":"DejaVu Sans","fontSize":40,"fill":"#111"},"encoding":{"text":{"field":"t"}}},
{"data":{"values":[{"x":-29.1,"y":17,"t":"ip"}]},"mark":{"type":"text","align":"right","baseline":"alphabetic","font":"Liberation Sans","fontSize":33,"fill":"#222"},"encoding":{"text":{"field":"t"}}},
{"data":{"values":[{"x":-27.36,"y":13.37,"t":"mm"},{"x":-22.82,"y":16.4,"t":"b)"}]},"mark":{"type":"text","align":"left","baseline":"alphabetic","font":"Liberation Sans","fontSize":30,"fill":"#3a3a3a"},"encoding":{"text":{"field":"t"}}},
{"data":{"values":[{"x":-28.9,"y":15.06,"t":"300"}]},"mark":{"type":"text","align":"left","baseline":"alphabetic","font":"Liberation Sans","fontSize":31,"fill":"#3a3a3a"},"encoding":{"text":{"field":"t"}}},
{"data":{"values":[{"x":-16.52,"y":-0.59,"t":"SAFOD"}]},"mark":{"type":"text","align":"left","baseline":"alphabetic","font":"Liberation Sans","fontSize":27,"fill":"#3a3a3a"},"encoding":{"text":{"field":"t"}}},
{"data":{"values":[{"x":-18.31,"y":16.45,"t":"NW"},{"x":17.46,"y":16.45,"t":"SE"}]},"mark":{"type":"text","align":"left","baseline":"alphabetic","font":"Liberation Sans","fontWeight":"bold","fontSize":26,"fill":"#555"},"encoding":{"text":{"field":"t"}}},
{"data":{"values":[{"x":-20,"y":16.6,"t":"←"},{"x":18.95,"y":16.6,"t":"→"}]},"mark":{"type":"text","align":"left","baseline":"alphabetic","font":"Liberation Sans","fontSize":38,"fill":"#111"},"encoding":{"text":{"field":"t"}}},
{"data":{"values":[{"x":-19.04,"y":9.68,"t":"D"},{"x":0.7,"y":13.54,"t":"C"}]},"mark":{"type":"text","align":"left","baseline":"alphabetic","font":"Liberation Sans","fontSize":34,"fill":"#d0452a"},"encoding":{"text":{"field":"t"}}},
{"data":{"values":[{"x":-19.17,"y":-2.85,"t":"-20"},{"x":-9.15,"y":-2.85,"t":"-10"},{"x":0.4,"y":-2.85,"t":"0"},{"x":10.8,"y":-2.85,"t":"10"},{"x":20.6,"y":-2.85,"t":"20"}]},"mark":{"type":"text","align":"right","baseline":"alphabetic","font":"Liberation Sans","fontSize":30,"fill":"#888"},"encoding":{"text":{"field":"t"}}}
],
"resolve":{"axis":{"x":"independent","y":"independent"}}}
